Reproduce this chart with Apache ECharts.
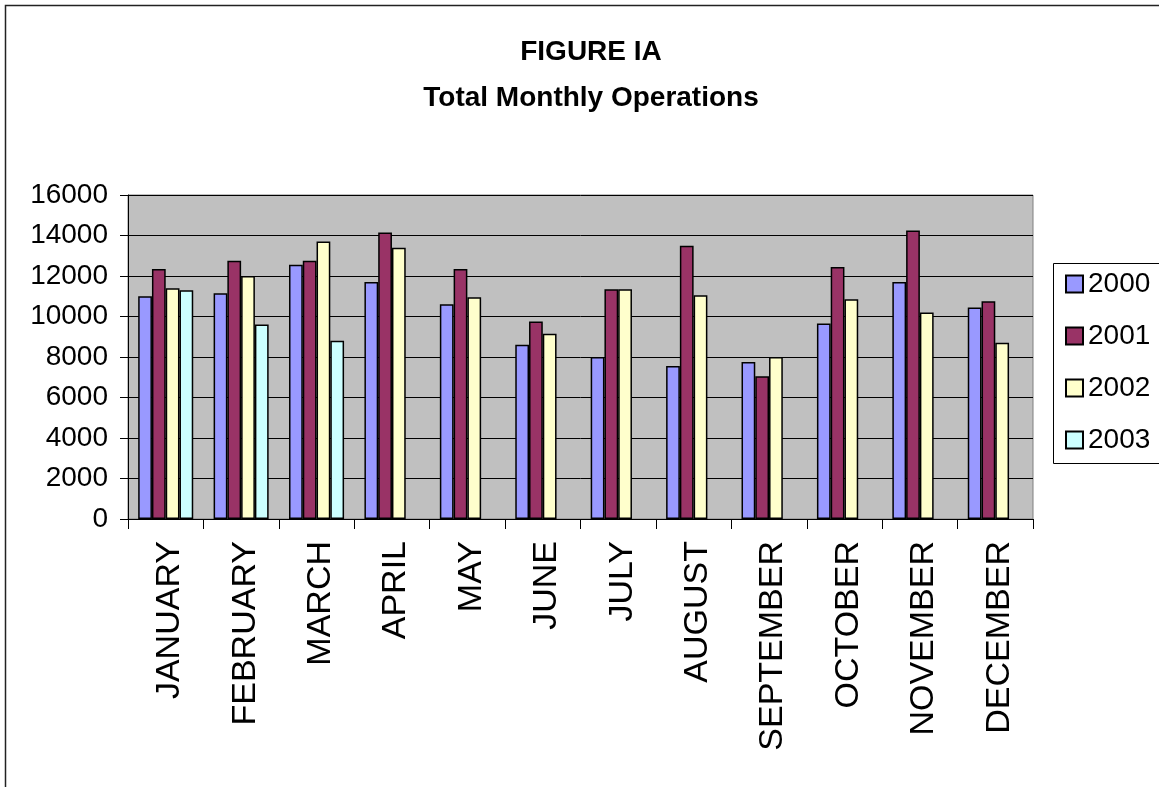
<!DOCTYPE html>
<html>
<head>
<meta charset="utf-8">
<script src="https://cdn.jsdelivr.net/npm/echarts@6/dist/echarts.min.js"></script>
<style>
  html, body { margin: 0; padding: 0; background: #fff; }
  #chart { width: 1159px; height: 787px; }
</style>
</head>
<body>
<div id="chart"></div>
<script>
const titleLine1 = 'FIGURE IA';
const titleLine2 = 'Total Monthly Operations';
const months = ['JANUARY','FEBRUARY','MARCH','APRIL','MAY','JUNE','JULY','AUGUST','SEPTEMBER','OCTOBER','NOVEMBER','DECEMBER'];
const seriesNames = ['2000','2001','2002','2003'];
const ops2000 = [11000, 11150, 12550, 11700, 10600, 8600, 8000, 7550, 7750, 9650, 11700, 10450];
const ops2001 = [12350, 12750, 12750, 14150, 12350, 9750, 11350, 13500, 7050, 12450, 14250, 10750];
const ops2002 = [11400, 12000, 13700, 13400, 10950, 9150, 11350, 11050, 8000, 10850, 10200, 8700];
const ops2003 = [11300, 9600, 8800, null, null, null, null, null, null, null, null, null];
const seriesColors = ['#9999FF', '#993366', '#FFFFCC', '#CCFFFF'];

const FONT = 'Liberation Sans, Arial, sans-serif';
const chart = echarts.init(document.getElementById('chart'), null, { renderer: 'canvas' });
const allData = [ops2000, ops2001, ops2002, ops2003];

chart.setOption({
  backgroundColor: '#ffffff',
  animation: false,
  title: [
    { text: titleLine1, left: 586, top: 33, textAlign: 'center',
      textStyle: { fontFamily: FONT, fontSize: 28, fontWeight: 'bold', color: '#000' } },
    { text: titleLine2, left: 586, top: 79, textAlign: 'center',
      textStyle: { fontFamily: FONT, fontSize: 28, fontWeight: 'bold', color: '#000' } }
  ],
  graphic: [
    { type: 'rect', shape: { x: 5.5, y: 5.5, width: 1300, height: 900 },
      style: { fill: 'none', stroke: '#222', lineWidth: 1.5 }, z: -1 },
    { type: 'rect', shape: { x: 1053.5, y: 263.5, width: 200, height: 200 },
      style: { fill: '#fff', stroke: '#000', lineWidth: 1 }, z: 0 }
  ],
  legend: {
    orient: 'vertical',
    left: 1055, top: 262,
    padding: [8, 10, 8, 10],
    itemGap: 24,
    itemWidth: 17, itemHeight: 17,
    icon: 'rect',
    textStyle: { fontFamily: FONT, fontSize: 28, color: '#000' },
    z: 5,
    data: seriesNames
  },
  grid: {
    left: 128, top: 195, right: 126, bottom: 268,
    show: true, backgroundColor: '#C0C0C0', borderColor: '#808080', borderWidth: 1
  },
  xAxis: {
    type: 'category',
    data: months,
    boundaryGap: true,
    axisLine: { lineStyle: { color: '#000', width: 1 } },
    axisTick: { show: true, alignWithLabel: false, length: 10, lineStyle: { color: '#000' } },
    axisLabel: { rotate: 90, interval: 0, margin: 22, verticalAlign: 'top', lineHeight: 8,
      fontFamily: FONT, fontSize: 34, color: '#000' }
  },
  yAxis: {
    type: 'value',
    min: 0, max: 16000, interval: 2000,
    axisLine: { show: true, lineStyle: { color: '#000', width: 1 } },
    axisTick: { show: true, length: 8, lineStyle: { color: '#000' } },
    axisLabel: { margin: 20, fontFamily: FONT, fontSize: 28, color: '#000',
      formatter: v => String(v) },
    splitLine: { show: true, lineStyle: { color: '#000', width: 1 } }
  },
  series: seriesNames.map((name, i) => ({
    name: name,
    type: 'bar',
    data: allData[i],
    barGap: '0%',
    barCategoryGap: '27%',
    itemStyle: { color: seriesColors[i], borderColor: '#000', borderWidth: 1.5 }
  }))
});
</script>
</body>
</html>
